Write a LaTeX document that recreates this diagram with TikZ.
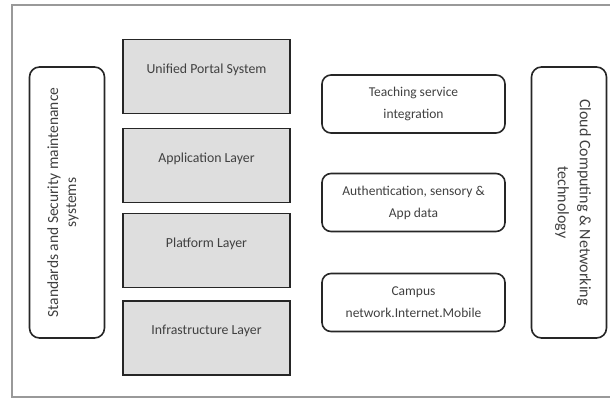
\documentclass[tikz,border=0pt]{standalone}
\usepackage{fontspec}
\setmainfont{Carlito}
\usepackage{tikz}

\tikzset{
    layerbox/.style={draw=black!85, line width=1.6pt, fill=black!13,
        minimum width=167pt, minimum height=74pt, inner sep=0pt,
        font=\fontsize{13.8}{16}\selectfont, text=black!75,
        text height=9pt, text depth=16pt},
    servicebox/.style={draw=black!85, line width=1.6pt, rounded corners=9pt,
        minimum width=183pt, minimum height=58pt, inner sep=0pt, align=center,
        font=\fontsize{13.5}{22}\selectfont, text=black!75},
    sidebox/.style={draw=black!85, line width=1.6pt, rounded corners=10pt,
        minimum width=75pt, minimum height=271pt, inner sep=0pt}
}

\begin{document}
\begin{tikzpicture}[x=1pt, y=-1pt]
    \useasboundingbox (0,0) rectangle (610,399);
    % frame of the figure
    \draw[black!40, line width=1.2pt] (610,5) -- (12,5) -- (12,397) -- (610,397);

    % side boxes
    \node[sidebox] (standards) at (67,202.5) {};
    \node[rotate=90, align=center, font=\fontsize{15.5}{18}\selectfont, text=black!75]
        (standardstext) at ([xshift=-4pt]standards.center) {Standards and Security maintenance\\systems};
    \node[sidebox] (cloud) at (569,202.5) {};
    \node[rotate=-90, align=center, font=\fontsize{16}{22}\selectfont, text=black!75]
        (cloudtext) at ([xshift=4pt]cloud.center) {Cloud Computing \& Networking\\technology};

    % layers
    \node[layerbox] (unified) at (206.5,76.5) {Unified Portal System};
    \node[layerbox] (application) at (206.5,165.5) {Application Layer};
    \node[layerbox] (platform) at (206.5,250.5) {Platform Layer};
    \node[layerbox] (infra) at (206.5,338) {Infrastructure Layer};

    % services
    \node[servicebox] (teaching) at (413.5,104) {Teaching service\\integration};
    \node[servicebox] (auth) at (413.5,202.5) {Authentication, sensory \&\\App data};
    \node[servicebox] (campus) at (413.5,302.5) {Campus\\network.Internet.Mobile};
\end{tikzpicture}
\end{document}
